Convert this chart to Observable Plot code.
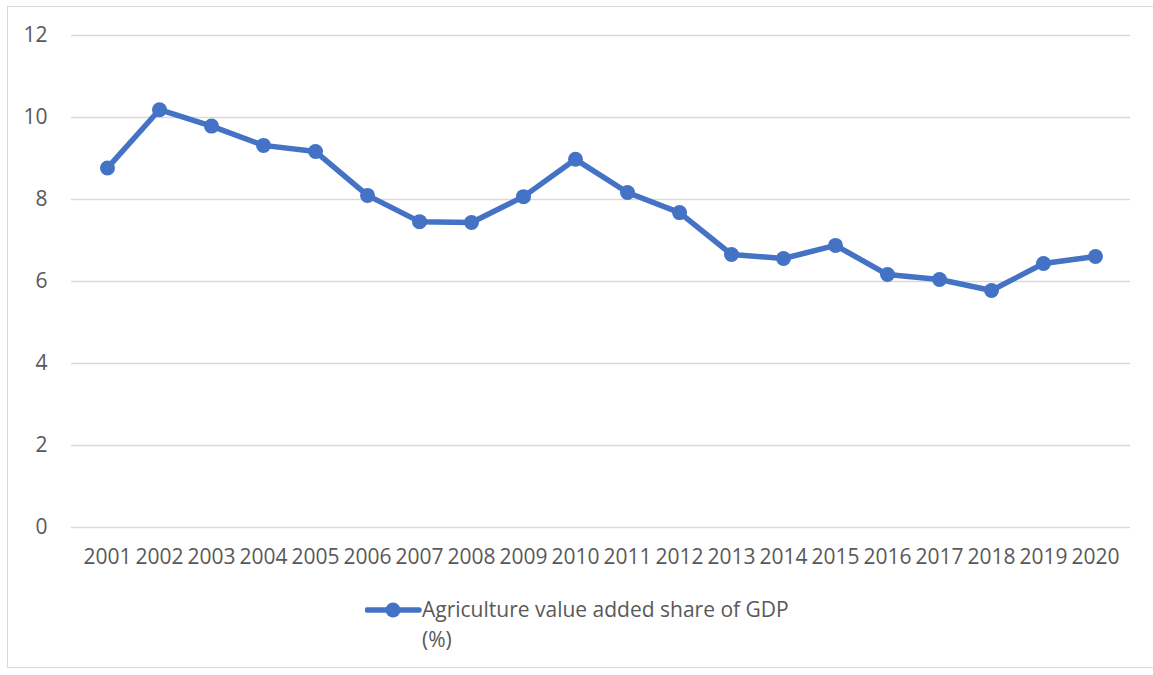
<!DOCTYPE html>
<html>
<head>
<meta charset="utf-8">
<script src="https://cdn.jsdelivr.net/npm/d3@7"></script>
<script src="https://cdn.jsdelivr.net/npm/@observablehq/plot@0.6"></script>
<style>
  body { margin: 0; background: #fff; font-family: "Open Sans", sans-serif; }
  #frame { position: absolute; left: 7px; top: 6px; width: 1150px; height: 662px; border: 1px solid #d9d9d9; box-sizing: border-box; }
  #chart { position: absolute; left: 0; top: 0; }
  #legend { position: absolute; left: 365px; top: 594px; display: flex; align-items: flex-start; color: #595959; font-size: 21px; line-height: 30px; }
  #legend .txt { width: 382px; }
</style>
</head>
<body>
<div id="frame"></div>
<div id="chart"></div>
<div id="legend"><svg width="57" height="30"><line x1="2" y1="16" x2="54" y2="16" stroke="#4472C4" stroke-width="5.5" stroke-linecap="round"/><circle cx="28" cy="16" r="7.5" fill="#4472C4"/></svg><div class="txt">Agriculture value added share of GDP (%)</div></div>
<script>
const years = ["2001","2002","2003","2004","2005","2006","2007","2008","2009","2010","2011","2012","2013","2014","2015","2016","2017","2018","2019","2020"];
const shares = [8.77, 10.19, 9.79, 9.32, 9.17, 8.10, 7.46, 7.44, 8.07, 8.98, 8.17, 7.68, 6.66, 6.56, 6.88, 6.17, 6.05, 5.78, 6.44, 6.61];
const yTicks = [0, 2, 4, 6, 8, 10, 12];
const seriesName = "Agriculture value added share of GDP (%)";

const data = years.map((y, i) => ({year: y, value: shares[i]}));

const chart = Plot.plot({
  width: 1153,
  height: 580,
  marginLeft: 71,
  marginRight: 23,
  marginTop: 35,
  marginBottom: 53,
  style: { fontFamily: "Open Sans, sans-serif", fontSize: "21px", color: "#595959", background: "transparent" },
  x: { type: "point", domain: years, padding: 0.5, label: null, tickSize: 0, tickPadding: 22 },
  y: { domain: [0, 12], ticks: yTicks, label: null, tickSize: 0, tickPadding: 24 },
  marks: [
    Plot.ruleY(yTicks, { stroke: "#d9d9d9", strokeWidth: 1.5, strokeOpacity: 1 }),
    Plot.line(data, { x: "year", y: "value", stroke: "#4472C4", strokeWidth: 5.5, strokeLinejoin: "round", strokeLinecap: "round" }),
    Plot.dot(data, { x: "year", y: "value", r: 7.5, fill: "#4472C4", stroke: "none" })
  ]
});
document.getElementById("chart").appendChild(chart);
</script>
</body>
</html>
